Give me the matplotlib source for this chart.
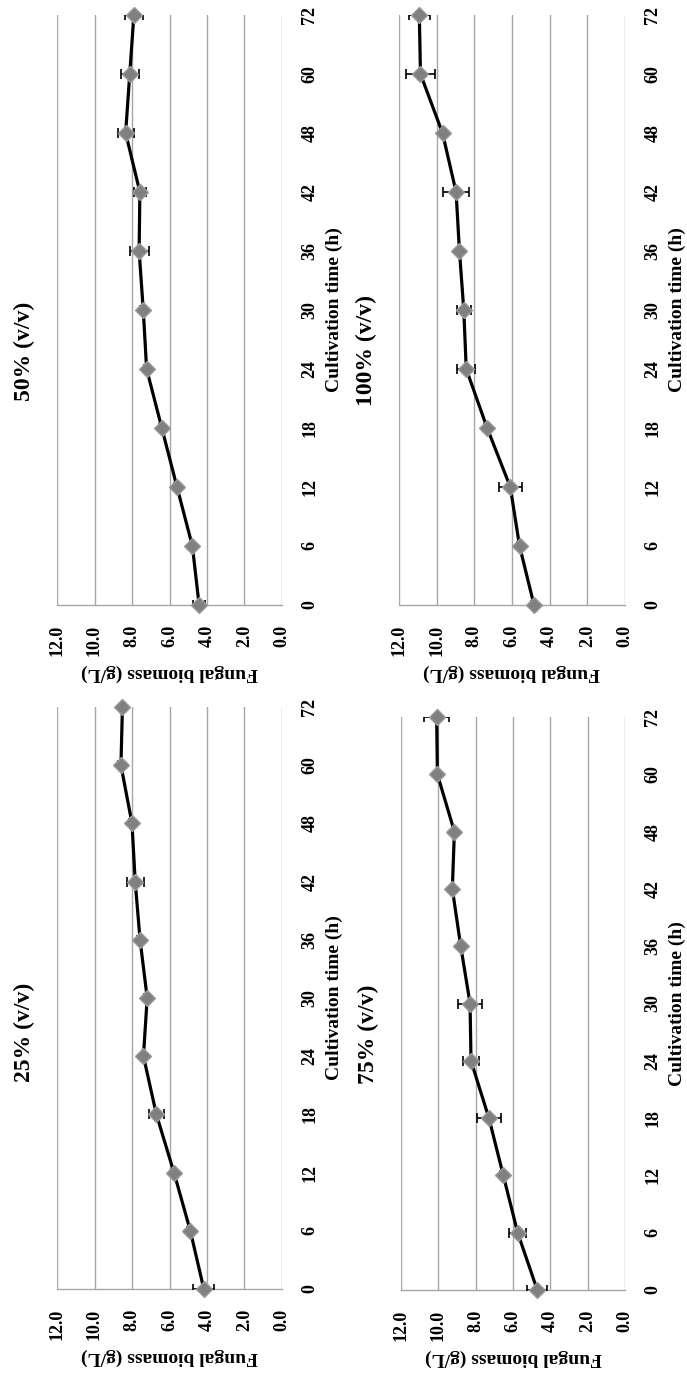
import numpy as np
import matplotlib.pyplot as plt

# cultivation time (h) and fungal biomass (g/L) per inoculum concentration
time_h = ["0", "6", "12", "18", "24", "30", "36", "42", "48", "60", "72"]
biomass_ticks = [0, 2, 4, 6, 8, 10, 12]

bio_25 = [4.17, 4.89, 5.76, 6.70, 7.39, 7.19, 7.57, 7.83, 8.00, 8.59, 8.51]
err_25 = [0.56, 0.15, 0.15, 0.41, 0.15, 0.15, 0.15, 0.45, 0.15, 0.15, 0.15]

bio_50 = [4.42, 4.78, 5.60, 6.41, 7.22, 7.40, 7.62, 7.58, 8.34, 8.12, 7.90]
err_50 = [0.32, 0.15, 0.15, 0.15, 0.15, 0.15, 0.50, 0.30, 0.43, 0.48, 0.49]

bio_75 = [4.70, 5.75, 6.52, 7.29, 8.25, 8.30, 8.80, 9.25, 9.14, 10.05, 10.09]
err_75 = [0.53, 0.45, 0.15, 0.66, 0.45, 0.64, 0.15, 0.15, 0.15, 0.15, 0.67]

bio_100 = [4.83, 5.60, 6.09, 7.32, 8.43, 8.56, 8.79, 8.97, 9.69, 10.86, 10.92]
err_100 = [0.15, 0.15, 0.60, 0.15, 0.49, 0.36, 0.15, 0.68, 0.15, 0.79, 0.54]

titles = ["50% (v/v)", "100% (v/v)", "25% (v/v)", "75% (v/v)"]

plt.rcParams["font.family"] = ["Liberation Serif", "DejaVu Serif"]
plt.rcParams["font.weight"] = "bold"

W, H = 687, 1374
fig = plt.figure(figsize=(W / 100, H / 100), dpi=100)


def panel(rect, bio, err, title, title_xy):
    # the whole figure is turned on its side: time runs upwards, biomass leftwards
    left, top, right, bottom = rect
    ax = fig.add_axes([left / W, 1 - bottom / H, (right - left) / W, (bottom - top) / H])
    pos = np.arange(len(time_h))  # category axis, evenly spaced
    ax.set_xlim(12, 0)
    ax.set_ylim(0, len(time_h) - 1)
    ax.set_xticks(biomass_ticks)
    ax.set_xticklabels(["%.1f" % v for v in biomass_ticks], rotation=90,
                       fontsize=13, fontweight="bold")
    ax.set_yticks(pos)
    ax.yaxis.tick_right()
    ax.set_yticklabels(time_h, rotation=90, va="center",
                       fontsize=13, fontweight="bold")
    ax.tick_params(axis="both", length=0)
    ax.tick_params(axis="x", pad=14)
    ax.tick_params(axis="y", pad=14)
    ax.grid(axis="x", color="#a6a6a6", linewidth=1.0)
    for s in ["top", "left", "right"]:
        ax.spines[s].set_visible(False)
    ax.spines["bottom"].set_color("#a6a6a6")
    ax.spines["bottom"].set_linewidth(1.0)

    ax.errorbar(bio, pos, xerr=err, fmt="none", ecolor="black",
                elinewidth=1.2, capsize=3.5, capthick=1.2, zorder=3)
    ax.plot(bio, pos, color="black", linewidth=2.3, zorder=4)
    ax.plot(bio, pos, linestyle="none", marker="D", markersize=8,
            markerfacecolor="#808080", markeredgecolor="#9a9a9a",
            markeredgewidth=1.0, zorder=5, clip_on=False)

    ax.set_xlabel("Fungal biomass (g/L)", rotation=180, fontsize=14,
                  fontweight="bold", labelpad=6)
    ax.yaxis.set_label_position("right")
    ax.set_ylabel("Cultivation time (h)", rotation=90, fontsize=14,
                  fontweight="bold", labelpad=5)
    fig.text(title_xy[0] / W, 1 - title_xy[1] / H, title, rotation=90,
             ha="center", va="center", fontsize=17, fontweight="bold")
    return ax


panel((57, 15, 282, 605), bio_50, err_50, titles[0], (24, 351))
panel((399, 15, 625, 605), bio_100, err_100, titles[1], (366, 351))
panel((57, 707, 282, 1289), bio_25, err_25, titles[2], (24, 1032))
panel((401, 717, 625, 1290), bio_75, err_75, titles[3], (368, 1034))

fig.savefig("out.png", dpi=100, facecolor="white")
